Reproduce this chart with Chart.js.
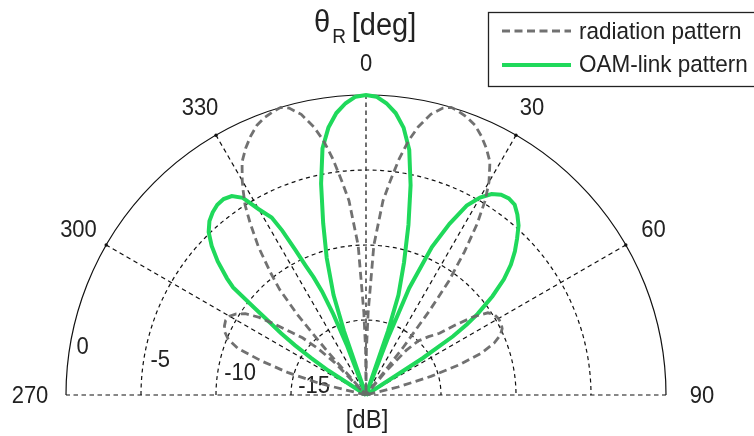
<!DOCTYPE html>
<html>
<head>
<meta charset="utf-8">
<script src="https://cdn.jsdelivr.net/npm/chart.js@4.4.1/dist/chart.umd.min.js"></script>
<style>
html,body{margin:0;padding:0;background:#fff;}
#wrap{width:754px;height:436px;position:relative;overflow:hidden;}
canvas{display:block;}
</style>
</head>
<body>
<div id="wrap"><canvas id="c" width="754" height="436"></canvas></div>
<script>
// ---- data (angles in degrees, values in dB) ----
const DB_FLOOR = -20;
const ringLevels = [0, -5, -10, -15];
const ringLabels = ['0', '-5', '-10', '-15'];
const spokeAngles = [-90, -60, -30, 0, 30, 60, 90];
const spokeLabels = ['270', '300', '330', '0', '30', '60', '90'];
const seriesNames = ['radiation pattern', 'OAM-link pattern'];

const radAngles = [-90, -80, -78, -76, -74, -72, -70, -68, -66, -64, -62, -60, -58, -56, -54, -52, -50, -48, -46, -44,
  -42.5, -41.5, -40.5, -39.3, -38, -36, -34, -32.5, -31, -30, -28, -26, -24, -22, -20, -18, -16.5, -15, -13, -11, -9.5, -8, -6.5, -5, -3, -1.5, -0.5,
  0, 0.5, 1.5, 3, 5, 6.5, 8, 9.5, 11, 13, 15, 16.5, 18, 20, 22, 24, 26, 28, 30, 31.5, 33, 34.5, 36, 37, 38, 39,
  40, 42, 44, 47, 50, 52, 54, 56, 58, 60, 62, 64, 66, 68, 70, 72, 74, 76, 78, 80, 90];
const radDB = [-20, -20, -20, -16.8, -14.6, -12.7, -10.9, -10.1, -9.7, -9.5, -9.4, -9.5, -9.8, -10.3, -11.2, -12.4, -13.5, -14.3, -15.5, -17,
  -20, -16, -13, -10.9, -9.7, -7.8, -6.2, -5.0, -4.1, -3.5, -2.4, -1.7, -1.1, -0.6, -0.3, -0.1, 0, -0.2, -0.8, -1.8, -2.8, -4.1, -5.6, -7, -10, -14.5, -17,
  -20, -17, -14.5, -10, -7, -5.6, -4.1, -2.8, -1.8, -0.8, -0.2, 0, -0.1, -0.3, -0.6, -1.1, -1.7, -2.4, -3.6, -4.8, -6.4, -8.4, -10.6, -13, -16, -20,
  -18, -16, -15, -14.3, -13.6, -12.4, -11.1, -10.2, -9.9, -9.8, -9.8, -9.9, -10.2, -10.8, -11.8, -13.4, -15.5, -17.8, -20, -20, -20];

const oamAngles = [-90, -75, -60, -58, -57, -56, -55, -54, -53, -52, -51, -50, -48, -46, -44, -42, -40, -38, -36, -34, -32, -30, -28, -27, -26, -25, -24, -23, -22, -21,
  -20, -19, -18, -16, -14, -12, -10, -8, -6, -4, -2,
  0, 2, 4, 6, 8, 10, 12, 14, 16, 18, 19,
  20, 21, 22, 24, 26, 28, 30, 32, 34, 36, 38, 40, 42, 44, 46, 48, 50, 52, 54, 55, 56, 57, 58, 60, 75, 90];
const oamDB = [-20, -20, -20, -20, -17, -15.6, -14.2, -13, -12, -10.5, -8.6, -7.9, -6.7, -5.7, -4.9, -4.4, -4.1, -3.9, -3.85, -4.0, -4.5, -5.7, -6.6, -7.7, -9.2, -10.5, -11.4, -12.5, -14.2, -16.5,
  -20, -15.5, -13, -10.5, -8.2, -5.6, -3.3, -2.0, -1.1, -0.5, -0.1,
  0, -0.1, -0.5, -1.1, -2.0, -3.4, -5.7, -8.3, -10.8, -13.0, -15.5,
  -20, -16, -12.3, -9.2, -7.3, -5.7, -4.8, -4.2, -3.9, -3.8, -3.9, -4.3, -4.8, -5.5, -6.2, -7.0, -8.0, -9.3, -10.8, -11.8, -13.0, -15.5, -20, -20, -20, -20];

// ---- polar -> cartesian through the linear scales (radius = dB above floor) ----
function toXY(angles, values) {
  return angles.map((a, i) => {
    const r = Math.max(values[i] - DB_FLOOR, 0);
    const t = a * Math.PI / 180;
    return { x: r * Math.sin(t), y: r * Math.cos(t) };
  });
}

const FONT = "'Liberation Sans', Arial, sans-serif";
const GRAY = 'rgba(105,105,105,0.95)';
const GREEN = '#1fd95b';

function drawText(ctx, txt, x, y, size, align, sy) {
  ctx.save();
  ctx.font = size + 'px ' + FONT;
  ctx.textAlign = align || 'center';
  ctx.textBaseline = 'middle';
  ctx.translate(x, y);
  ctx.scale(1, sy || 1);
  ctx.fillText(txt, 0, 0);
  ctx.restore();
}

const polarGrid = {
  id: 'polarGrid',
  beforeDatasetsDraw(chart) {
    const ctx = chart.ctx;
    const xs = chart.scales.x, ys = chart.scales.y;
    const cx = xs.getPixelForValue(0), cy = ys.getPixelForValue(0);
    const px = v => xs.getPixelForValue(v) - cx;
    const Rmax = px(0 - DB_FLOOR);
    ctx.save();
    ctx.strokeStyle = '#111';
    ctx.lineWidth = 1.2;
    // rings
    ringLevels.forEach(l => {
      const r = px(l - DB_FLOOR);
      ctx.beginPath();
      if (l === 0) ctx.setLineDash([]); else ctx.setLineDash([4, 3.5]);
      ctx.arc(cx, cy, r, Math.PI, 2 * Math.PI);
      ctx.stroke();
    });
    // spokes
    ctx.setLineDash([4.5, 3.5]);
    spokeAngles.forEach(a => {
      const t = a * Math.PI / 180;
      ctx.beginPath();
      ctx.moveTo(cx, cy);
      ctx.lineTo(cx + Rmax * Math.sin(t), cy - Rmax * Math.cos(t));
      ctx.stroke();
    });
    ctx.setLineDash([]);
    // small tick dots on outer circle
    ctx.fillStyle = '#111';
    [-60, -30, 30, 60].forEach(a => {
      const t = a * Math.PI / 180;
      ctx.beginPath();
      ctx.arc(cx + Rmax * Math.sin(t), cy - Rmax * Math.cos(t), 1.7, 0, 2 * Math.PI);
      ctx.fill();
    });
    ctx.restore();

    // labels
    ctx.save();
    ctx.fillStyle = '#222';
    spokeAngles.forEach((a, i) => {
      const t = a * Math.PI / 180;
      let rr = Rmax + 32;
      if (Math.abs(a) === 90) rr = Rmax + 36;
      drawText(ctx, spokeLabels[i], cx + rr * Math.sin(t), cy - rr * Math.cos(t) + 1, 22, 'center', 1.12);
    });
    ringLevels.forEach((l, i) => {
      const r = px(l - DB_FLOOR);
      const t = -80 * Math.PI / 180;
      drawText(ctx, ringLabels[i], cx + r * Math.sin(t) + 6, cy - r * Math.cos(t) + 4, 22, 'left', 1.12);
    });
    ctx.restore();
  },
  afterDraw(chart) {
    const ctx = chart.ctx;
    const xs = chart.scales.x;
    const cx = xs.getPixelForValue(0);
    ctx.save();
    ctx.fillStyle = '#222';
    // title theta_R [deg]
    drawText(ctx, 'θ', cx - 44, 23, 29, 'center', 1.1);
    drawText(ctx, 'R', cx - 27, 38, 19, 'center', 1.05);
    drawText(ctx, '[deg]', cx + 18, 26, 29, 'center', 1.1);
    // axis unit
    drawText(ctx, '[dB]', cx + 1, 421, 24, 'center', 1.1);
    // legend
    ctx.fillStyle = '#fff';
    ctx.fillRect(488, 12, 280, 74);
    ctx.strokeStyle = '#222';
    ctx.lineWidth = 1.3;
    ctx.strokeRect(488.5, 12.5, 280, 74);
    ctx.lineWidth = 2.8;
    ctx.strokeStyle = GRAY;
    ctx.setLineDash([8, 4.5]);
    ctx.beginPath(); ctx.moveTo(502, 31); ctx.lineTo(571, 31); ctx.stroke();
    ctx.setLineDash([]);
    ctx.lineWidth = 4;
    ctx.strokeStyle = GREEN;
    ctx.beginPath(); ctx.moveTo(502, 65); ctx.lineTo(571, 65); ctx.stroke();
    ctx.fillStyle = '#222';
    drawText(ctx, seriesNames[0], 579, 32, 22.5, 'left', 1.08);
    drawText(ctx, seriesNames[1], 579, 65, 22.5, 'left', 1.08);
    ctx.restore();
  }
};

const PX_PER_UNIT = 15, CX = 366, CY = 395, W = 754, H = 436;

new Chart(document.getElementById('c'), {
  type: 'scatter',
  data: {
    datasets: [
      {
        label: seriesNames[0],
        data: toXY(radAngles, radDB),
        showLine: true,
        borderColor: GRAY,
        borderWidth: 2.8,
        borderDash: [8, 4.5],
        pointRadius: 0,
        tension: 0,
        fill: false
      },
      {
        label: seriesNames[1],
        data: toXY(oamAngles, oamDB),
        showLine: true,
        borderColor: GREEN,
        borderWidth: 4,
        pointRadius: 0,
        tension: 0,
        fill: false
      }
    ]
  },
  options: {
    responsive: false,
    animation: false,
    devicePixelRatio: 1,
    layout: { padding: 0 },
    plugins: { legend: { display: false }, tooltip: { enabled: false }, title: { display: false } },
    scales: {
      x: { type: 'linear', display: false, min: -CX / PX_PER_UNIT, max: (W - CX) / PX_PER_UNIT },
      y: { type: 'linear', display: false, min: -(H - CY) / PX_PER_UNIT, max: CY / PX_PER_UNIT }
    }
  },
  plugins: [polarGrid]
});
</script>
</body>
</html>
